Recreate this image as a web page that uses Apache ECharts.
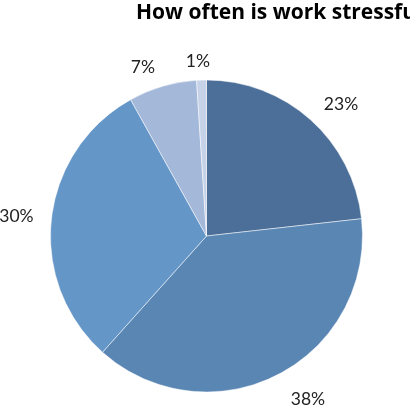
<!DOCTYPE html>
<html>
<head>
<meta charset="utf-8">
<script src="https://cdn.jsdelivr.net/npm/echarts@6/dist/echarts.min.js"></script>
<style>
html,body{margin:0;padding:0;background:#fff;}
#c{width:410px;height:410px;}
</style>
</head>
<body>
<div id="c"></div>
<script>
const titleText = 'How often is work stressful?';
const categories = ['A', 'B', 'C', 'D', 'E'];
const values = [23, 38, 30, 7, 1];
const colors = ['#4b6f98', '#5a86b4', '#6496c8', '#a4b8d9', '#c6d2e8'];
const lineLen = [20, 28, 18, 20, 19];
const lineLen2 = [0, 0, 0, 2, -9];

const chart = echarts.init(document.getElementById('c'), null, {renderer: 'canvas'});
chart.setOption({
  animation: false,
  title: {
    text: titleText,
    left: 131,
    top: -2,
    textStyle: {fontFamily: 'Open Sans', fontWeight: 'bold', fontSize: 21, color: '#000'}
  },
  series: [{
    type: 'pie',
    center: [206.5, 236],
    radius: [0, 156],
    startAngle: 90,
    clockwise: true,
    avoidLabelOverlap: false,
    data: categories.map((c, i) => ({
      name: c, value: values[i],
      itemStyle: {color: colors[i]},
      labelLine: {show: false, length: lineLen[i], length2: lineLen2[i]}
    })),
    itemStyle: {borderColor: 'rgba(255,255,255,0.5)', borderWidth: 1},
    label: {
      show: true,
      position: 'outside',
      formatter: p => p.value + '%',
      fontFamily: 'Lato',
      fontSize: 17.5,
      color: '#222',
      distanceToLabelLine: 0
    },
    labelLine: {show: false, length: 20, length2: 0},
    emphasis: {disabled: true}
  }]
});
</script>
</body>
</html>
